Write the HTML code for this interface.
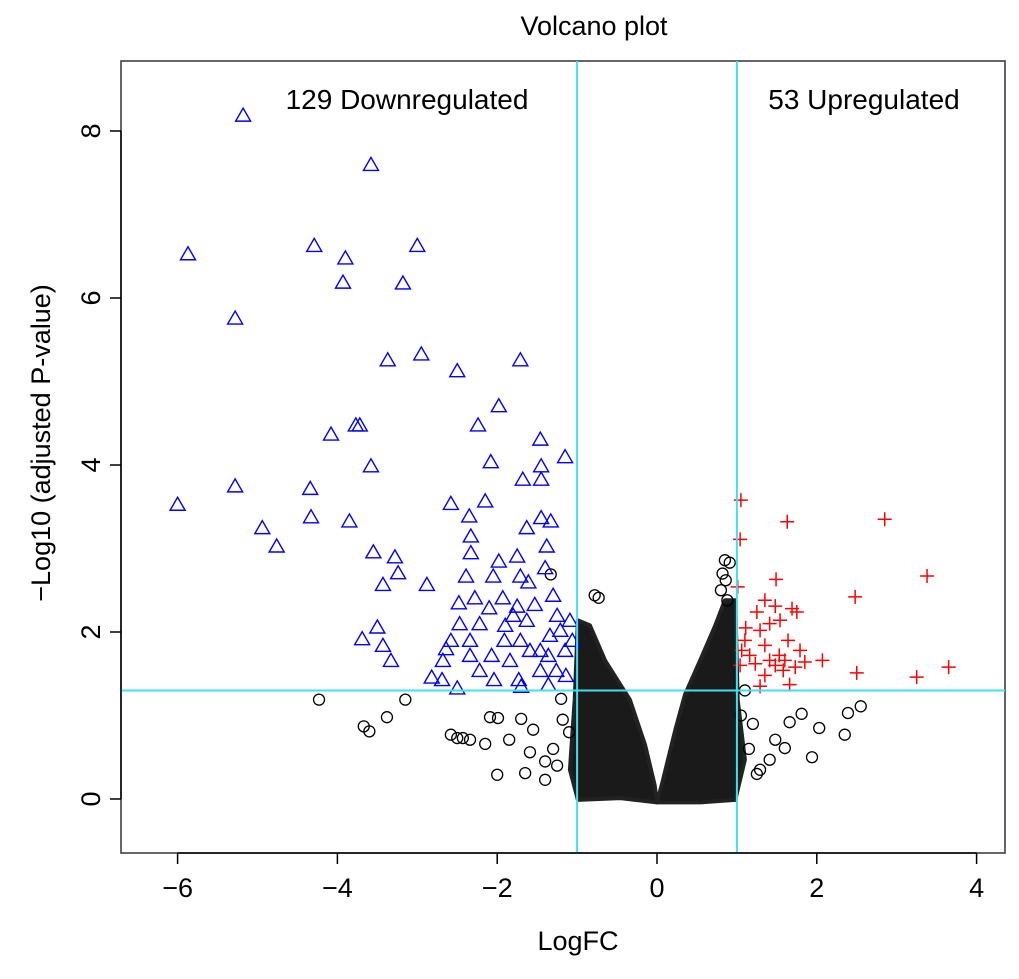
<!DOCTYPE html>
<html><head><meta charset="utf-8"><style>
body{margin:0;background:#fff}
svg text{font-family:"Liberation Sans",Arial,sans-serif;fill:#000}
</style></head><body>
<svg id="chart" width="1019" height="974" xmlns="http://www.w3.org/2000/svg">
<text x="594" y="35" font-size="27" text-anchor="middle" fill="#222">Volcano plot</text>
<rect x="121" y="61" width="884" height="792" fill="none" stroke="#333" stroke-width="1.5"/>
<g id="marks"></g>
<g id="axes"></g>
<text x="578" y="950" font-size="27" text-anchor="middle">LogFC</text>
<text transform="translate(50,443) rotate(-90)" font-size="27" text-anchor="middle">−Log10 (adjusted P-value)</text>
<text x="407" y="109" font-size="28" text-anchor="middle">129 Downregulated</text>
<text x="864" y="109" font-size="28" text-anchor="middle">53 Upregulated</text>
</svg>
<script>
const xTicks=[-6,-4,-2,0,2,4];
const yTicks=[0,2,4,6,8];
const downX=[-5.18,-3.58,-5.87,-4.29,-3.9,-3.0,-3.93,-3.18,-5.28,-2.95,-3.37,-1.71,-2.5,-1.98,-3.77,-3.72,-4.08,-2.24,-1.46,-2.08,-3.58,-1.45,-1.15,-6.0,-5.28,-4.34,-4.33,-3.85,-4.94,-4.76,-2.58,-2.15,-1.68,-1.45,-2.35,-1.45,-1.33,-2.33,-1.63,-3.55,-3.28,-3.24,-3.43,-2.88,-2.33,-1.38,-1.75,-1.98,-2.39,-2.05,-1.71,-1.61,-1.4,-2.28,-2.48,-1.93,-1.75,-1.3,-1.53,-2.1,-3.5,-3.69,-3.33,-3.43,-2.47,-2.22,-2.34,-1.9,-1.8,-1.71,-2.58,-2.64,-2.68,-2.82,-2.69,-2.5,-2.34,-2.07,-1.84,-1.59,-1.46,-1.73,-2.04,-2.22,-1.25,-1.21,-1.15,-1.09,-1.34,-1.36,-1.26,-1.14,-1.06,-1.46,-1.63,-1.91,-1.7,-1.36];
const downY=[8.19,7.6,6.53,6.63,6.48,6.63,6.19,6.18,5.76,5.33,5.26,5.26,5.13,4.71,4.48,4.48,4.37,4.48,4.31,4.04,3.99,3.99,4.1,3.53,3.75,3.72,3.38,3.33,3.25,3.03,3.54,3.57,3.83,3.83,3.39,3.37,3.33,3.15,3.25,2.96,2.9,2.71,2.57,2.57,2.95,3.03,2.91,2.85,2.67,2.67,2.67,2.6,2.77,2.41,2.35,2.41,2.31,2.44,2.33,2.29,2.06,1.92,1.66,1.84,2.1,2.1,1.9,2.08,2.2,1.9,1.9,1.8,1.66,1.46,1.43,1.33,1.72,1.72,1.66,1.78,1.54,1.43,1.43,1.54,2.2,2.02,1.78,2.14,1.96,1.72,1.54,1.48,1.9,1.78,2.14,1.9,1.35,1.37];
const upX=[1.05,1.04,1.63,2.85,3.38,1.49,2.48,1.01,3.65,3.25,2.5,2.07,1.25,1.35,1.48,1.69,1.75,1.54,1.41,1.29,1.1,1.16,1.06,1.35,1.64,1.23,1.48,1.73,1.85,1.58,1.35,1.66,1.29,1.04,1.53,1.79,1.11,1.41,1.6];
const upY=[3.58,3.11,3.32,3.35,2.67,2.63,2.42,2.54,1.58,1.46,1.51,1.66,2.24,2.38,2.31,2.28,2.24,2.14,2.1,2.02,1.9,1.72,1.78,1.84,1.9,1.62,1.6,1.58,1.64,1.54,1.48,1.37,1.35,1.6,1.72,1.78,2.05,1.66,1.66];
const nsX=[-1.33,-0.78,-0.73,-4.23,-3.15,-3.38,-3.67,-3.6,-2.58,-2.5,-2.43,-2.34,-2.15,-2.09,-1.99,-2.0,-1.85,-1.7,-1.59,-1.65,-1.55,-1.4,0.85,0.91,0.86,0.88,1.81,2.03,1.94,2.35,2.55,2.39,1.66,1.6,1.41,1.48,1.29,-1.2,-1.1,-1.25,-1.3,-1.18,-1.4,1.1,1.2,1.15,1.25,1.05,0.8,0.82];
const nsY=[2.69,2.44,2.41,1.19,1.19,0.98,0.87,0.81,0.77,0.73,0.73,0.71,0.66,0.98,0.97,0.29,0.71,0.96,0.56,0.31,0.83,0.23,2.86,2.83,2.62,2.38,1.02,0.85,0.5,0.77,1.11,1.03,0.92,0.61,0.47,0.71,0.35,1.2,0.8,0.4,0.6,0.95,0.45,1.3,0.9,0.6,0.3,1.0,2.5,2.7];
const denseLeftX=[-0.99,-1.09,-1.03,-0.99,-0.84,-0.65,-0.46,-0.34,-0.15,-0.03,0,-0.46];
const denseLeftY=[-0.01,0.35,1.19,2.14,2.08,1.66,1.37,1.19,0.65,0.17,-0.04,0.01];
const denseRightX=[0,0.06,0.23,0.35,0.54,0.73,0.85,0.98,1.01,1.1,0.98,0.54];
const denseRightY=[-0.04,0.17,0.83,1.25,1.66,2.08,2.38,2.38,1.19,0.47,-0.01,-0.04];
const fcCut=[-1,1], pCut=1.3;
const X=v=>657+v*79.9, Y=v=>799-v*83.5;
const NS="http://www.w3.org/2000/svg";
const marks=document.getElementById('marks'), axes=document.getElementById('axes');
function mk(t,a,p){const e=document.createElementNS(NS,t);for(const k in a)e.setAttribute(k,a[k]);p.appendChild(e);return e;}
[[denseLeftX,denseLeftY,'dense-cloud-left'],[denseRightX,denseRightY,'dense-cloud-right']].forEach(([xs,ys,n])=>{
 const p=mk('polygon',{points:xs.map((x,i)=>X(x)+','+Y(ys[i])).join(' '),fill:'#1a1a1a',stroke:'#222','stroke-width':4,'stroke-linejoin':'round'},marks);
 
 
});
nsX.forEach((x,i)=>{const c=mk('circle',{cx:X(x),cy:Y(nsY[i]),r:5.5,fill:'none',stroke:'#000','stroke-width':1.3},marks);
 
 });
downX.forEach((x,i)=>{const cx=X(x),cy=Y(downY[i]);const t=mk('polygon',{points:`${cx},${cy-7} ${cx-7.5},${cy+6} ${cx+7.5},${cy+6}`,fill:'none',stroke:'#0000ff','stroke-width':1.4},marks);
 
 });
upX.forEach((x,i)=>{const cx=X(x),cy=Y(upY[i]);const g=mk('path',{d:`M${cx-7},${cy}H${cx+7}M${cx},${cy-7}V${cy+7}`,stroke:'#ff0000','stroke-width':1.5},marks);
 
 });
fcCut.forEach(v=>{const l=mk('line',{x1:X(v),x2:X(v),y1:61,y2:853,stroke:'#40e0f0','stroke-width':2},marks);
 
 });
{const l=mk('line',{x1:121,x2:1005,y1:Y(pCut),y2:Y(pCut),stroke:'#40e0f0','stroke-width':2},marks);
 
 }
mk('line',{x1:X(xTicks[0]),x2:X(xTicks[xTicks.length-1]),y1:853,y2:853,stroke:'#000','stroke-width':1.5},axes);
xTicks.forEach(v=>{mk('line',{x1:X(v),x2:X(v),y1:853,y2:864,stroke:'#000','stroke-width':1.5},axes);
 const t=mk('text',{x:X(v),y:897,'font-size':27,'text-anchor':'middle'},axes);t.textContent=v<0?'−'+(-v):v;
 
 });
mk('line',{x1:121,x2:121,y1:Y(yTicks[0]),y2:Y(yTicks[yTicks.length-1]),stroke:'#000','stroke-width':1.5},axes);
yTicks.forEach(v=>{mk('line',{x1:110,x2:121,y1:Y(v),y2:Y(v),stroke:'#000','stroke-width':1.5},axes);
 const t=mk('text',{transform:`translate(100,${Y(v)}) rotate(-90)`,'font-size':27,'text-anchor':'middle'},axes);t.textContent=v;
 
 });
</script>
</body></html>
